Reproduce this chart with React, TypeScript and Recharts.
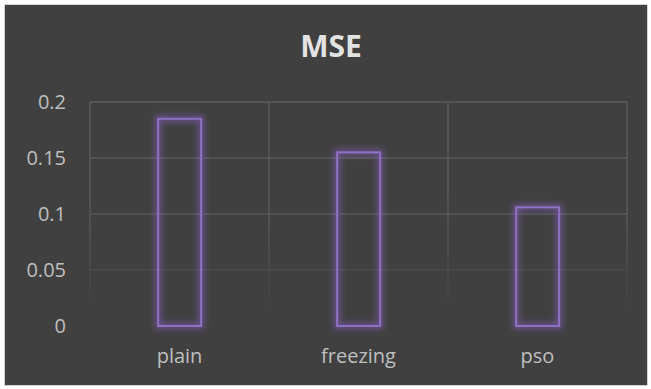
import React from "react";
import { BarChart, Bar, XAxis, YAxis, CartesianGrid } from "recharts";

// Mean squared error per training method
const methods = ["plain", "freezing", "pso"];
const mseValues = [0.185, 0.155, 0.106];
const yTicks = [0, 0.05, 0.1, 0.15, 0.2];

const data = methods.map((name, i) => ({ name, mse: mseValues[i] }));

const FONT = "'Open Sans', 'DejaVu Sans', sans-serif";
const BG = "#404040";
const BAR_STROKE = "#9070c4";

const OutlinedBar = (props: any) => {
  const { x, y, width, height } = props;
  if (height <= 0) return null;
  return (
    <g filter="url(#barGlow)">
      <rect
        x={x + 1}
        y={y}
        width={width - 2}
        height={height}
        fill="none"
        stroke={BAR_STROKE}
        strokeWidth={2}
      />
    </g>
  );
};

export default function App() {
  const chartW = 642;
  const chartH = 380;
  return (
    <div
      style={{
        position: "absolute",
        left: 4,
        top: 4,
        width: chartW,
        height: chartH,
        border: "1px solid #d4d4d4",
        background: BG,
      }}
    >
      <svg width={0} height={0} style={{ position: "absolute" }}>
        <defs>
          <filter id="barGlow" x="-50%" y="-20%" width="200%" height="140%">
            <feMorphology in="SourceAlpha" operator="dilate" radius="2" result="thick" />
            <feGaussianBlur in="thick" stdDeviation="3" result="blur" />
            <feFlood floodColor="#8a5fc4" floodOpacity="0.6" result="tint" />
            <feComposite in="tint" in2="blur" operator="in" result="glow" />
            <feMerge>
              <feMergeNode in="glow" />
              <feMergeNode in="SourceGraphic" />
            </feMerge>
          </filter>
          <linearGradient id="gridFade" gradientUnits="userSpaceOnUse" x1="0" y1="97" x2="0" y2="321">
            <stop offset="0" stopColor="#5b5b5b" />
            <stop offset="0.5" stopColor="#575757" />
            <stop offset="0.75" stopColor="#4b4b4b" />
            <stop offset="0.92" stopColor="#414141" />
            <stop offset="1" stopColor="#404040" />
          </linearGradient>
        </defs>
      </svg>
      <div
        style={{
          position: "absolute",
          left: 0,
          top: 21,
          width: chartW + 10,
          textAlign: "center",
          fontFamily: FONT,
          fontWeight: 700,
          fontSize: 30,
          color: "#e3e3e3",
          lineHeight: "40px",
        }}
      >
        MSE
      </div>
      <BarChart
        width={chartW}
        height={chartH}
        data={data}
        margin={{ top: 97, right: 20, left: 25, bottom: 29 }}
        barCategoryGap="37.5%"
      >
        <CartesianGrid
          stroke="url(#gridFade)"
          strokeWidth={1.5}
          verticalCoordinatesGenerator={({ offset }: any) =>
            [0, 1, 2, 3].map((i) => offset.left + (i * offset.width) / methods.length)
          }
        />
        <XAxis
          dataKey="name"
          axisLine={false}
          tickLine={false}
          tickSize={6}
          tickMargin={17}
          height={30}
          interval={0}
          tick={{ fill: "#bfbfbf", fontSize: 20, fontFamily: FONT }}
        />
        <YAxis
          type="number"
          domain={[0, 0.2]}
          ticks={yTicks}
          axisLine={false}
          tickLine={false}
          tickSize={6}
          tickMargin={18}
          width={60}
          tick={{ fill: "#bfbfbf", fontSize: 20, fontFamily: FONT }}
        />
        <Bar dataKey="mse" shape={OutlinedBar} isAnimationActive={false} />
      </BarChart>
    </div>
  );
}
